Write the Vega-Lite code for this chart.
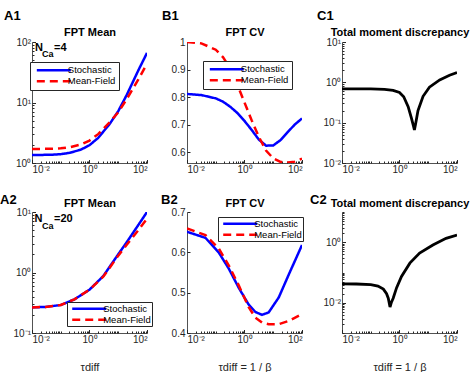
{
  "$schema": "https://vega.github.io/schema/vega-lite/v6.json",
  "background": "white",
  "padding": {"left": 0, "top": 9, "right": 5, "bottom": 0},
  "config": {
    "font": "Liberation Sans",
    "view": {"stroke": null},
    "axis": {"grid": false, "labelOverlap": false, "domainColor": "#262626", "domainWidth": 0.8, "tickColor": "#262626", "tickSize": -3, "labelPadding": 5, "labelFont": "Liberation Sans", "labelFontSize": 10, "labelColor": "#262626", "titleFont": "Liberation Sans", "titleFontSize": 11, "titleFontWeight": "normal", "titleColor": "#262626", "titlePadding": 15},
    "axisY": {"titleAngle": 0, "titleAlign": "center", "titleBaseline": "alphabetic", "titleX": 57.5, "titleY": -6.5, "titleFontSize": 11, "titleFontWeight": "bold", "titleColor": "black"},
    "title": {"font": "Liberation Sans", "fontSize": 13, "fontWeight": "bold", "color": "black", "baseline": "alphabetic", "anchor": "start", "frame": "group", "offset": 0},
    "legend": {"symbolType": "M-0.35,0H7.65", "symbolSize": 72, "symbolStrokeWidth": 2.5, "labelFont": "Liberation Sans", "labelFontSize": 9.5, "labelColor": "black", "labelAlign": "left", "labelOffset": 24, "strokeColor": "#262626", "fillColor": "white", "padding": 2.8, "rowPadding": 0, "cornerRadius": 0}
  },
  "datasets": {
    "a1": [
      {"x": 0.01, "y": 1.36, "series": "Stochastic"}, {"x": 0.02, "y": 1.36, "series": "Stochastic"}, {"x": 0.05, "y": 1.37, "series": "Stochastic"}, {"x": 0.1, "y": 1.40, "series": "Stochastic"}, {"x": 0.2, "y": 1.47, "series": "Stochastic"}, {"x": 0.5, "y": 1.66, "series": "Stochastic"}, {"x": 1, "y": 1.97, "series": "Stochastic"}, {"x": 2, "y": 2.6, "series": "Stochastic"}, {"x": 5, "y": 4.4, "series": "Stochastic"}, {"x": 10, "y": 7.2, "series": "Stochastic"}, {"x": 20, "y": 13.5, "series": "Stochastic"}, {"x": 50, "y": 34, "series": "Stochastic"}, {"x": 100, "y": 66, "series": "Stochastic"},
      {"x": 0.01, "y": 1.71, "series": "Mean-Field"}, {"x": 0.02, "y": 1.71, "series": "Mean-Field"}, {"x": 0.05, "y": 1.72, "series": "Mean-Field"}, {"x": 0.1, "y": 1.75, "series": "Mean-Field"}, {"x": 0.2, "y": 1.82, "series": "Mean-Field"}, {"x": 0.5, "y": 2.02, "series": "Mean-Field"}, {"x": 1, "y": 2.35, "series": "Mean-Field"}, {"x": 2, "y": 3.0, "series": "Mean-Field"}, {"x": 5, "y": 4.7, "series": "Mean-Field"}, {"x": 10, "y": 6.9, "series": "Mean-Field"}, {"x": 20, "y": 11.5, "series": "Mean-Field"}, {"x": 50, "y": 24, "series": "Mean-Field"}, {"x": 100, "y": 44, "series": "Mean-Field"}
    ],
    "b1": [
      {"x": 0.01, "y": 0.811, "series": "Stochastic"}, {"x": 0.0316, "y": 0.807, "series": "Stochastic"}, {"x": 0.1, "y": 0.795, "series": "Stochastic"}, {"x": 0.178, "y": 0.783, "series": "Stochastic"}, {"x": 0.316, "y": 0.765, "series": "Stochastic"}, {"x": 0.562, "y": 0.742, "series": "Stochastic"}, {"x": 1, "y": 0.713, "series": "Stochastic"}, {"x": 1.78, "y": 0.68, "series": "Stochastic"}, {"x": 3.16, "y": 0.645, "series": "Stochastic"}, {"x": 5.62, "y": 0.623, "series": "Stochastic"}, {"x": 10, "y": 0.624, "series": "Stochastic"}, {"x": 17.8, "y": 0.643, "series": "Stochastic"}, {"x": 31.6, "y": 0.672, "series": "Stochastic"}, {"x": 56.2, "y": 0.70, "series": "Stochastic"}, {"x": 100, "y": 0.722, "series": "Stochastic"},
      {"x": 0.01, "y": 1.0, "series": "Mean-Field"}, {"x": 0.0316, "y": 0.995, "series": "Mean-Field"}, {"x": 0.1, "y": 0.972, "series": "Mean-Field"}, {"x": 0.178, "y": 0.945, "series": "Mean-Field"}, {"x": 0.316, "y": 0.905, "series": "Mean-Field"}, {"x": 0.562, "y": 0.845, "series": "Mean-Field"}, {"x": 1, "y": 0.78, "series": "Mean-Field"}, {"x": 1.78, "y": 0.715, "series": "Mean-Field"}, {"x": 3.16, "y": 0.655, "series": "Mean-Field"}, {"x": 5.62, "y": 0.605, "series": "Mean-Field"}, {"x": 10, "y": 0.577, "series": "Mean-Field"}, {"x": 17.8, "y": 0.564, "series": "Mean-Field"}, {"x": 31.6, "y": 0.562, "series": "Mean-Field"}, {"x": 56.2, "y": 0.565, "series": "Mean-Field"}, {"x": 100, "y": 0.576, "series": "Mean-Field"}
    ],
    "c1": [
      {"x": 0.01, "y": 0.69}, {"x": 0.1, "y": 0.685}, {"x": 0.3, "y": 0.67}, {"x": 0.6, "y": 0.63}, {"x": 1, "y": 0.56}, {"x": 1.4, "y": 0.44}, {"x": 2, "y": 0.25}, {"x": 2.6, "y": 0.13}, {"x": 3.1, "y": 0.08}, {"x": 3.3, "y": 0.066}, {"x": 3.6, "y": 0.09}, {"x": 4.4, "y": 0.2}, {"x": 6.6, "y": 0.45}, {"x": 11, "y": 0.76}, {"x": 25, "y": 1.15}, {"x": 55, "y": 1.5}, {"x": 100, "y": 1.75}
    ],
    "a2": [
      {"x": 0.01, "y": 0.265, "series": "Stochastic"}, {"x": 0.03, "y": 0.27, "series": "Stochastic"}, {"x": 0.1, "y": 0.29, "series": "Stochastic"}, {"x": 0.3, "y": 0.36, "series": "Stochastic"}, {"x": 1, "y": 0.52, "series": "Stochastic"}, {"x": 3, "y": 0.87, "series": "Stochastic"}, {"x": 10, "y": 2.0, "series": "Stochastic"}, {"x": 20, "y": 3.2, "series": "Stochastic"}, {"x": 50, "y": 6.1, "series": "Stochastic"}, {"x": 100, "y": 10, "series": "Stochastic"},
      {"x": 0.01, "y": 0.265, "series": "Mean-Field"}, {"x": 0.03, "y": 0.27, "series": "Mean-Field"}, {"x": 0.1, "y": 0.29, "series": "Mean-Field"}, {"x": 0.3, "y": 0.36, "series": "Mean-Field"}, {"x": 1, "y": 0.52, "series": "Mean-Field"}, {"x": 3, "y": 0.85, "series": "Mean-Field"}, {"x": 10, "y": 1.9, "series": "Mean-Field"}, {"x": 20, "y": 2.9, "series": "Mean-Field"}, {"x": 50, "y": 5.0, "series": "Mean-Field"}, {"x": 100, "y": 7.8, "series": "Mean-Field"}
    ],
    "b2": [
      {"x": 0.01, "y": 0.651, "series": "Stochastic"}, {"x": 0.0437, "y": 0.636, "series": "Stochastic"}, {"x": 0.126, "y": 0.60, "series": "Stochastic"}, {"x": 0.282, "y": 0.56, "series": "Stochastic"}, {"x": 0.631, "y": 0.512, "series": "Stochastic"}, {"x": 1.38, "y": 0.471, "series": "Stochastic"}, {"x": 2.4, "y": 0.452, "series": "Stochastic"}, {"x": 4.07, "y": 0.445, "series": "Stochastic"}, {"x": 6.92, "y": 0.451, "series": "Stochastic"}, {"x": 15.5, "y": 0.488, "series": "Stochastic"}, {"x": 34.7, "y": 0.545, "series": "Stochastic"}, {"x": 100, "y": 0.618, "series": "Stochastic"},
      {"x": 0.01, "y": 0.659, "series": "Mean-Field"}, {"x": 0.0437, "y": 0.643, "series": "Mean-Field"}, {"x": 0.126, "y": 0.61, "series": "Mean-Field"}, {"x": 0.282, "y": 0.568, "series": "Mean-Field"}, {"x": 0.631, "y": 0.518, "series": "Mean-Field"}, {"x": 1.38, "y": 0.465, "series": "Mean-Field"}, {"x": 2.4, "y": 0.438, "series": "Mean-Field"}, {"x": 4.07, "y": 0.426, "series": "Mean-Field"}, {"x": 6.92, "y": 0.422, "series": "Mean-Field"}, {"x": 15.5, "y": 0.422, "series": "Mean-Field"}, {"x": 34.7, "y": 0.43, "series": "Mean-Field"}, {"x": 100, "y": 0.447, "series": "Mean-Field"}
    ],
    "c2": [
      {"x": 0.01, "y": 0.0422}, {"x": 0.0316, "y": 0.0417}, {"x": 0.1, "y": 0.0398}, {"x": 0.178, "y": 0.0355}, {"x": 0.275, "y": 0.0282}, {"x": 0.355, "y": 0.020}, {"x": 0.407, "y": 0.0141}, {"x": 0.468, "y": 0.0072}, {"x": 0.525, "y": 0.0105}, {"x": 0.603, "y": 0.0141}, {"x": 0.794, "y": 0.0316}, {"x": 1.175, "y": 0.0741}, {"x": 2.29, "y": 0.204}, {"x": 5.01, "y": 0.437}, {"x": 14.5, "y": 0.813}, {"x": 41.7, "y": 1.35}, {"x": 100, "y": 1.74}
    ]
  },
  "columns": 3,
  "bounds": "flush",
  "spacing": {"row": 49, "column": 40},
  "resolve": {"scale": {"color": "independent", "strokeDash": "independent"}, "legend": {"color": "independent", "strokeDash": "independent"}},
  "concat": [
    {
      "width": 115, "height": 121,
      "title": {"text": "A1", "dx": -28},
      "layer": [
        {
          "data": {"name": "a1"},
          "mark": {"type": "line", "strokeWidth": 2.5, "clip": true},
          "encoding": {
            "x": {"field": "x", "type": "quantitative", "scale": {"type": "log", "domain": [0.01, 100], "nice": false}, "axis": {"values": [0.01,0.02,0.03,0.04,0.05,0.06,0.07,0.08,0.09,0.1,0.2,0.3,0.4,0.5,0.6,0.7,0.8,0.9,1,2,3,4,5,6,7,8,9,10,20,30,40,50,60,70,80,90,100], "title": null, "labelExpr": "datum.value == 0.01 ? '10⁻²' : datum.value == 1 ? '10⁰' : datum.value == 100 ? '10²' : ''", "tickSize": {"condition": {"test": "datum.value == 0.01 || datum.value == 1 || datum.value == 100", "value": -3.5}, "value": -2}}},
            "y": {"field": "y", "type": "quantitative", "scale": {"type": "log", "domain": [1, 100], "nice": false}, "axis": {"values": [1,2,3,4,5,6,7,8,9,10,20,30,40,50,60,70,80,90,100], "labelExpr": "datum.value == 1 ? '10⁰' : datum.value == 10 ? '10¹' : datum.value == 100 ? '10²' : ''", "tickSize": {"condition": {"test": "datum.value == 1 || datum.value == 10 || datum.value == 100", "value": -3.5}, "value": -2}, "title": "FPT Mean"}},
            "color": {"field": "series", "type": "nominal", "sort": null, "scale": {"domain": ["Stochastic", "Mean-Field"], "range": ["#0000ff", "#ff0000"]}, "legend": {"title": null, "orient": "none", "legendX": -2, "legendY": 20}},
            "strokeDash": {"field": "series", "type": "nominal", "sort": null, "scale": {"domain": ["Stochastic", "Mean-Field"], "range": [[1, 0], [8, 5]]}, "legend": {"title": null, "orient": "none", "legendX": -2, "legendY": 20}}
          }
        },
        {
          "data": {"values": [{"t": "N"}]},
          "mark": {"type": "text", "align": "left", "baseline": "alphabetic", "dx": 3, "dy": 9, "fontSize": 11, "fontWeight": "bold", "color": "black"},
          "encoding": {"x": {"datum": 0.01}, "y": {"datum": 100}, "text": {"field": "t"}}
        },
        {
          "data": {"values": [{"t": "Ca"}]},
          "mark": {"type": "text", "align": "left", "baseline": "alphabetic", "dx": 10, "dy": 15, "fontSize": 9, "fontWeight": "bold", "color": "black"},
          "encoding": {"x": {"datum": 0.01}, "y": {"datum": 100}, "text": {"field": "t"}}
        },
        {
          "data": {"values": [{"t": "=4"}]},
          "mark": {"type": "text", "align": "left", "baseline": "alphabetic", "dx": 22, "dy": 9, "fontSize": 11, "fontWeight": "bold", "color": "black"},
          "encoding": {"x": {"datum": 0.01}, "y": {"datum": 100}, "text": {"field": "t"}}
        }
      ]
    },
    {
      "width": 115, "height": 121,
      "title": {"text": "B1", "dx": -25},
      "data": {"name": "b1"},
      "mark": {"type": "line", "strokeWidth": 2.5, "clip": true},
      "encoding": {
        "x": {"field": "x", "type": "quantitative", "scale": {"type": "log", "domain": [0.01, 100], "nice": false}, "axis": {"values": [0.01,0.02,0.03,0.04,0.05,0.06,0.07,0.08,0.09,0.1,0.2,0.3,0.4,0.5,0.6,0.7,0.8,0.9,1,2,3,4,5,6,7,8,9,10,20,30,40,50,60,70,80,90,100], "title": null, "labelExpr": "datum.value == 0.01 ? '10⁻²' : datum.value == 1 ? '10⁰' : datum.value == 100 ? '10²' : ''", "tickSize": {"condition": {"test": "datum.value == 0.01 || datum.value == 1 || datum.value == 100", "value": -3.5}, "value": -2}}},
        "y": {"field": "y", "type": "quantitative", "scale": {"domain": [0.56, 1], "nice": false, "zero": false}, "axis": {"values": [0.6, 0.7, 0.8, 0.9, 1], "labelExpr": "datum.value > 0.99 ? '1' : format(datum.value, '.1f')", "title": "FPT CV"}},
        "color": {"field": "series", "type": "nominal", "sort": null, "scale": {"domain": ["Stochastic", "Mean-Field"], "range": ["#0000ff", "#ff0000"]}, "legend": {"title": null, "orient": "none", "legendX": 16, "legendY": 19}},
        "strokeDash": {"field": "series", "type": "nominal", "sort": null, "scale": {"domain": ["Stochastic", "Mean-Field"], "range": [[1, 0], [8, 5]]}, "legend": {"title": null, "orient": "none", "legendX": 16, "legendY": 19}}
      }
    },
    {
      "width": 115, "height": 121,
      "title": {"text": "C1", "dx": -25},
      "data": {"name": "c1"},
      "mark": {"type": "line", "strokeWidth": 2.8, "color": "black", "clip": true},
      "encoding": {
        "x": {"field": "x", "type": "quantitative", "scale": {"type": "log", "domain": [0.01, 100], "nice": false}, "axis": {"values": [0.01,0.02,0.03,0.04,0.05,0.06,0.07,0.08,0.09,0.1,0.2,0.3,0.4,0.5,0.6,0.7,0.8,0.9,1,2,3,4,5,6,7,8,9,10,20,30,40,50,60,70,80,90,100], "title": null, "labelExpr": "datum.value == 0.01 ? '10⁻²' : datum.value == 1 ? '10⁰' : datum.value == 100 ? '10²' : ''", "tickSize": {"condition": {"test": "datum.value == 0.01 || datum.value == 1 || datum.value == 100", "value": -3.5}, "value": -2}}},
        "y": {"field": "y", "type": "quantitative", "scale": {"type": "log", "domain": [0.01, 10], "nice": false}, "axis": {"values": [0.01,0.02,0.03,0.04,0.05,0.06,0.07,0.08,0.09,0.1,0.2,0.3,0.4,0.5,0.6,0.7,0.8,0.9,1,2,3,4,5,6,7,8,9,10], "labelExpr": "datum.value == 0.01 ? '10⁻²' : datum.value == 0.1 ? '10⁻¹' : datum.value == 1 ? '10⁰' : datum.value == 10 ? '10¹' : ''", "tickSize": {"condition": {"test": "datum.value == 0.01 || datum.value == 0.1 || datum.value == 1 || datum.value == 10", "value": -3.5}, "value": -2}, "title": "Total moment discrepancy"}}
      }
    },
    {
      "width": 115, "height": 121,
      "title": {"text": "A2", "dx": -32, "offset": -9},
      "layer": [
        {
          "data": {"name": "a2"},
          "mark": {"type": "line", "strokeWidth": 2.5, "clip": true},
          "encoding": {
            "x": {"field": "x", "type": "quantitative", "scale": {"type": "log", "domain": [0.01, 100], "nice": false}, "axis": {"values": [0.01,0.02,0.03,0.04,0.05,0.06,0.07,0.08,0.09,0.1,0.2,0.3,0.4,0.5,0.6,0.7,0.8,0.9,1,2,3,4,5,6,7,8,9,10,20,30,40,50,60,70,80,90,100], "title": "τdiff", "labelExpr": "datum.value == 0.01 ? '10⁻²' : datum.value == 1 ? '10⁰' : datum.value == 100 ? '10²' : ''", "tickSize": {"condition": {"test": "datum.value == 0.01 || datum.value == 1 || datum.value == 100", "value": -3.5}, "value": -2}}},
            "y": {"field": "y", "type": "quantitative", "scale": {"type": "log", "domain": [0.1, 10], "nice": false}, "axis": {"values": [0.1,0.2,0.3,0.4,0.5,0.6,0.7,0.8,0.9,1,2,3,4,5,6,7,8,9,10], "labelExpr": "datum.value == 0.1 ? '10⁻¹' : datum.value == 1 ? '10⁰' : datum.value == 10 ? '10¹' : ''", "tickSize": {"condition": {"test": "datum.value == 0.1 || datum.value == 1 || datum.value == 10", "value": -3.5}, "value": -2}, "title": "FPT Mean", "titleY": -5.5}},
            "color": {"field": "series", "type": "nominal", "sort": null, "scale": {"domain": ["Stochastic", "Mean-Field"], "range": ["#0000ff", "#ff0000"]}, "legend": {"title": null, "orient": "none", "legendX": 35, "legendY": 90, "padding": 1.2}},
            "strokeDash": {"field": "series", "type": "nominal", "sort": null, "scale": {"domain": ["Stochastic", "Mean-Field"], "range": [[1, 0], [8, 5]]}, "legend": {"title": null, "orient": "none", "legendX": 35, "legendY": 90, "padding": 1.2}}
          }
        },
        {
          "data": {"values": [{"t": "N"}]},
          "mark": {"type": "text", "align": "left", "baseline": "alphabetic", "dx": 2.5, "dy": 10, "fontSize": 11, "fontWeight": "bold", "color": "black"},
          "encoding": {"x": {"datum": 0.01}, "y": {"datum": 10}, "text": {"field": "t"}}
        },
        {
          "data": {"values": [{"t": "Ca"}]},
          "mark": {"type": "text", "align": "left", "baseline": "alphabetic", "dx": 10, "dy": 17, "fontSize": 9, "fontWeight": "bold", "color": "black"},
          "encoding": {"x": {"datum": 0.01}, "y": {"datum": 10}, "text": {"field": "t"}}
        },
        {
          "data": {"values": [{"t": "=20"}]},
          "mark": {"type": "text", "align": "left", "baseline": "alphabetic", "dx": 22, "dy": 10, "fontSize": 11, "fontWeight": "bold", "color": "black"},
          "encoding": {"x": {"datum": 0.01}, "y": {"datum": 10}, "text": {"field": "t"}}
        }
      ]
    },
    {
      "width": 115, "height": 121,
      "title": {"text": "B2", "dx": -26, "offset": -9},
      "data": {"name": "b2"},
      "mark": {"type": "line", "strokeWidth": 2.5, "clip": true},
      "encoding": {
        "x": {"field": "x", "type": "quantitative", "scale": {"type": "log", "domain": [0.01, 100], "nice": false}, "axis": {"values": [0.01,0.02,0.03,0.04,0.05,0.06,0.07,0.08,0.09,0.1,0.2,0.3,0.4,0.5,0.6,0.7,0.8,0.9,1,2,3,4,5,6,7,8,9,10,20,30,40,50,60,70,80,90,100], "title": "τdiff = 1 / β", "labelExpr": "datum.value == 0.01 ? '10⁻²' : datum.value == 1 ? '10⁰' : datum.value == 100 ? '10²' : ''", "tickSize": {"condition": {"test": "datum.value == 0.01 || datum.value == 1 || datum.value == 100", "value": -3.5}, "value": -2}}},
        "y": {"field": "y", "type": "quantitative", "scale": {"domain": [0.4, 0.7], "nice": false, "zero": false}, "axis": {"values": [0.4, 0.5, 0.6, 0.7], "format": ".1f", "title": "FPT CV", "titleY": -5.5}},
        "color": {"field": "series", "type": "nominal", "sort": null, "scale": {"domain": ["Stochastic", "Mean-Field"], "range": ["#0000ff", "#ff0000"]}, "legend": {"title": null, "orient": "none", "legendX": 31, "legendY": 5, "padding": 1.2}},
        "strokeDash": {"field": "series", "type": "nominal", "sort": null, "scale": {"domain": ["Stochastic", "Mean-Field"], "range": [[1, 0], [8, 5]]}, "legend": {"title": null, "orient": "none", "legendX": 31, "legendY": 5, "padding": 1.2}}
      }
    },
    {
      "width": 115, "height": 121,
      "title": {"text": "C2", "dx": -32, "offset": -9},
      "data": {"name": "c2"},
      "mark": {"type": "line", "strokeWidth": 2.8, "color": "black", "clip": true},
      "encoding": {
        "x": {"field": "x", "type": "quantitative", "scale": {"type": "log", "domain": [0.01, 100], "nice": false}, "axis": {"values": [0.01,0.02,0.03,0.04,0.05,0.06,0.07,0.08,0.09,0.1,0.2,0.3,0.4,0.5,0.6,0.7,0.8,0.9,1,2,3,4,5,6,7,8,9,10,20,30,40,50,60,70,80,90,100], "title": "τdiff = 1 / β", "labelExpr": "datum.value == 0.01 ? '10⁻²' : datum.value == 1 ? '10⁰' : datum.value == 100 ? '10²' : ''", "tickSize": {"condition": {"test": "datum.value == 0.01 || datum.value == 1 || datum.value == 100", "value": -3.5}, "value": -2}}},
        "y": {"field": "y", "type": "quantitative", "scale": {"type": "log", "domain": [0.001, 10], "nice": false}, "axis": {"values": [0.001,0.002,0.003,0.004,0.005,0.006,0.007,0.008,0.009,0.01,0.02,0.03,0.04,0.05,0.06,0.07,0.08,0.09,0.1,0.2,0.3,0.4,0.5,0.6,0.7,0.8,0.9,1,2,3,4,5,6,7,8,9,10], "labelExpr": "datum.value == 0.01 ? '10⁻²' : datum.value == 1 ? '10⁰' : ''", "tickSize": {"condition": {"test": "datum.value == 0.01 || datum.value == 1", "value": -3.5}, "value": -2}, "title": "Total moment discrepancy", "titleY": -5.5}}
      }
    }
  ]
}
